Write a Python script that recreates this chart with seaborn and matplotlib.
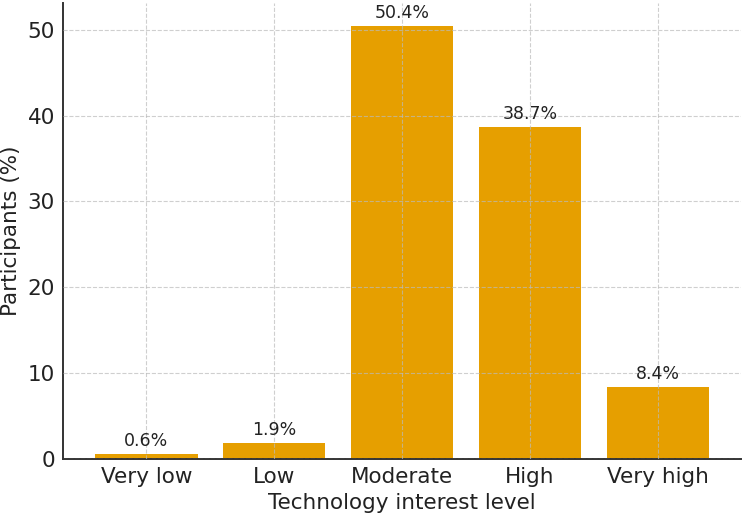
import pandas as pd
import matplotlib.pyplot as plt
import seaborn as sns

# Data
levels = ['Very low', 'Low', 'Moderate', 'High', 'Very high']
percent = [0.6, 1.9, 50.4, 38.7, 8.4]

df = pd.DataFrame({'level': levels, 'percent': percent})

sns.set_style('white')
plt.rcParams['font.family'] = ['DejaVu Sans']

fig, ax = plt.subplots(figsize=(7.44, 5.17), dpi=100)
sns.barplot(data=df, x='level', y='percent', color='#E69F00', saturation=1,
            width=0.8, linewidth=0, ax=ax)

# value labels above bars
for i, v in enumerate(percent):
    ax.annotate(f'{v}%', (i, v), xytext=(0, 3), textcoords='offset points',
                ha='center', va='bottom', fontsize=12.5, color='#222222')

ax.set_xlabel('Technology interest level', fontsize=15.5, color='#222222',
              labelpad=4)
ax.set_ylabel('Participants (%)', fontsize=15.5, color='#222222', labelpad=5)
ax.tick_params(axis='both', direction='in', labelsize=15.5, colors='#222222',
               length=5, width=1.2, pad=6)
ax.set_xlim(-0.65, 4.65)
ax.set_ylim(0, 53.1)
ax.set_yticks([0, 10, 20, 30, 40, 50])

ax.grid(True, linestyle='--', color='#bbbbbb', alpha=0.7, linewidth=0.8)
ax.set_axisbelow(False)
for s in ['top', 'right']:
    ax.spines[s].set_visible(False)
for s in ['left', 'bottom']:
    ax.spines[s].set_linewidth(1.4)
    ax.spines[s].set_color('#333333')

plt.subplots_adjust(left=0.085, right=0.996, top=0.994, bottom=0.112)
plt.savefig('out.png', dpi=100)
